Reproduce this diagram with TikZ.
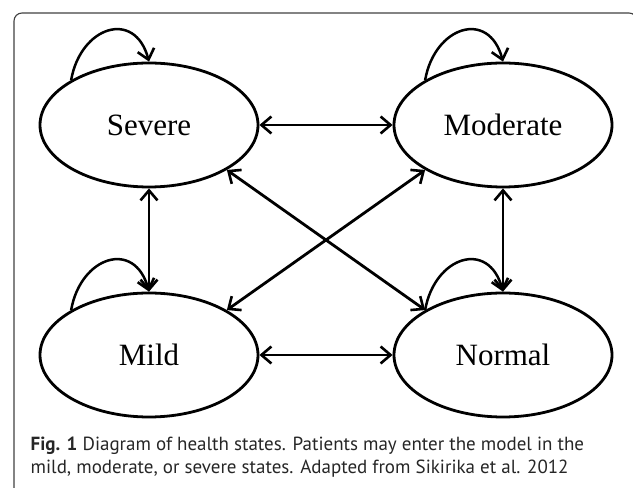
\documentclass[tikz,border=0pt]{standalone}
\usepackage{fontspec}
\setmainfont{Liberation Serif}
\newfontfamily\capfont{PT Sans}
\usetikzlibrary{positioning,shapes.geometric,arrows.meta}

\begin{document}
\begin{tikzpicture}[
        x=1pt,y=1pt,
        >={Straight Barb[length=10pt,width=17pt,line width=2.6pt]},
        state/.style={ellipse,draw,line width=2.8pt,minimum width=218pt,minimum height=124pt,inner sep=0pt,font=\fontsize{31}{31}\selectfont},
        trans/.style={<->,line width=2.8pt},
        selfloop/.style={->,line width=2.5pt,out=80,in=105,looseness=1.75}
    ]
    \useasboundingbox (0,0) rectangle (633,488);

    % Frame
    \draw[line width=1.1pt,black!75,rounded corners=8pt] (14,-5) -- (14,475) -- (637,475) -- (637,440);

    % States
    \node[state] (severe) at (149,363) {Severe};
    \node[state] (moderate) at (503,363) {Moderate};
    \node[state] (mild) at (149,133) {Mild};
    \node[state] (normal) at (503,133) {Normal};

    % Transitions between states
    \draw[trans] (severe) -- (moderate);
    \draw[trans] (mild) -- (normal);
    \draw[trans] (severe) -- (mild);
    \draw[trans] (moderate) -- (normal);
    \draw[trans] (severe.-30) -- (normal.150);
    \draw[trans] (moderate.210) -- (mild.30);

    % Staying in the same state
    \foreach \s in {severe,moderate,mild,normal}
        \draw[selfloop] (\s.150) to (\s.north);

    % Caption
    \node[anchor=base west,inner sep=0pt,text=black!85,font=\capfont\fontsize{19}{23}\selectfont,align=left] (caption) at (30.5,14)
        {\textbf{Fig. 1} Diagram of health states. Patients may enter the model in the\\
         mild, moderate, or severe states. Adapted from Sikirika et al. 2012};
\end{tikzpicture}
\end{document}
